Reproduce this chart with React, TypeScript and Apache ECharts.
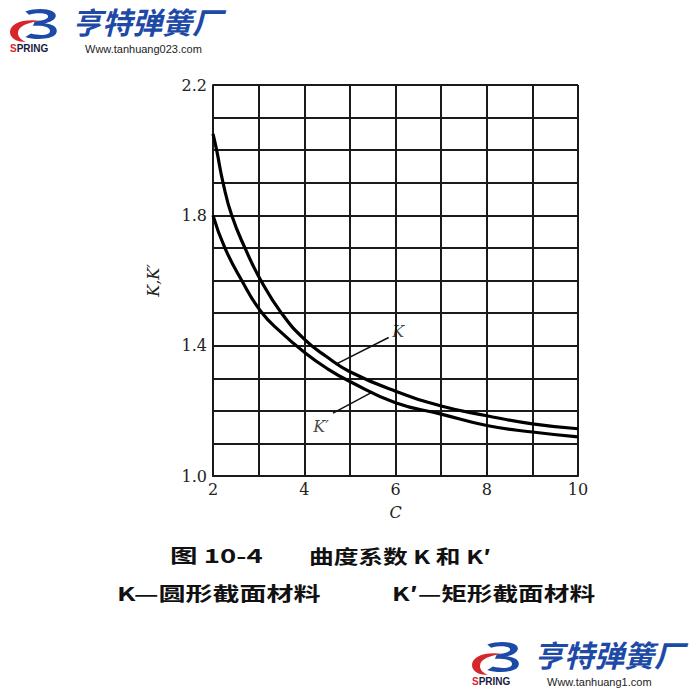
import React, { useEffect, useRef } from "react";
import * as echarts from "echarts";

// ---- data ----
const K_C = [2, 2.08, 2.22, 2.41, 2.7, 3.05, 3.5, 4, 4.5, 5, 6, 7, 8, 9, 10];
const K_VALUES = [2.05, 2.0, 1.9, 1.8, 1.7, 1.6, 1.5, 1.42, 1.365, 1.32, 1.26, 1.215, 1.185, 1.16, 1.145];
const KP_C = [2, 2.26, 2.63, 3.05, 3.5, 4, 4.5, 5, 6, 7, 8, 9, 10];
const KP_VALUES = [1.8, 1.7, 1.6, 1.505, 1.44, 1.38, 1.33, 1.29, 1.225, 1.19, 1.155, 1.135, 1.12];
const X_LABELS = [2, 4, 6, 8, 10];
const Y_LABELS = ["1.0", "1.4", "1.8", "2.2"];
const K_LEADER = [[4.72, 1.345], [5.85, 1.425]];
const KP_LEADER = [[5.5, 1.258], [4.63, 1.193]];
const K_LABEL_POS = [6.06, 1.445];
const KP_LABEL_POS = [4.37, 1.153];

const TITLE_1A = "图 10-4";
const TITLE_1B = "曲度系数 K 和 K′";
const TITLE_2A = "K—圆形截面材料";
const TITLE_2B = "K′—矩形截面材料";

const BLUE_PATH =
  "M14 4 C30 -2 48 2 46 10 C45 14 40 17 34 18 C44 19 50 24 46 31 C42 37 24 38 14 34 L20 30 C30 33 40 32 40 27 C40 22 32 20 22 21 L24 16 C32 15 38 13 38 10 C38 6 28 5 18 8 Z";
const RED_PATH =
  "M0 20 C0 11 14 6 32 9 C18 10 8 14 8 21 C8 25 11 28 16 30 C6 30 0 26 0 20 Z";

echarts.graphic.registerShape("logoBlue", echarts.graphic.extendPath(BLUE_PATH, {}));
echarts.graphic.registerShape("logoRed", echarts.graphic.extendPath(RED_PATH, {}));

const serif = "DejaVu Serif, Liberation Serif, serif";
const cjk = "Noto Sans CJK SC, sans-serif";

function logo(x: number, y: number, url: string) {
  return {
    type: "group",
    x,
    y,
    children: [
      { type: "logoRed", x: 0, y: 4, scaleX: 1, scaleY: 1, style: { fill: "#d7262b" } },
      { type: "logoBlue", x: 2, y: 0, scaleX: 0.95, scaleY: 0.85, style: { fill: "#1d4aa7" } },
      {
        type: "text",
        x: 0,
        y: 35,
        style: {
          text: "{r|S}{b|PRING}",
          rich: {
            r: { fill: "#d7262b", fontSize: 10, fontWeight: "bold", fontFamily: "Liberation Sans, sans-serif" },
            b: { fill: "#1a1a40", fontSize: 10, fontWeight: "bold", fontFamily: "Liberation Sans, sans-serif" },
          },
        },
      },
      {
        type: "text",
        x: 62,
        y: -2,
        style: {
          text: "亨特弹簧厂",
          fill: "#1d4aa7",
          font: "italic bold 30px Noto Sans CJK SC, sans-serif",
        },
      },
      {
        type: "text",
        x: 75,
        y: 35,
        style: {
          text: url,
          fill: "#222",
          font: "11px Liberation Sans, Arial, sans-serif",
        },
      },
    ],
  };
}

function title(x: number, y: number, text: string, sx: number) {
  return {
    type: "text",
    x,
    y,
    scaleX: sx,
    scaleY: 1,
    style: { text, font: `bold 19px ${cjk}`, fill: "#111", verticalAlign: "middle" },
  };
}

export default function App() {
  const ref = useRef<HTMLDivElement>(null);
  useEffect(() => {
    if (!ref.current) return;
    const chart = echarts.init(ref.current, undefined, { renderer: "svg" });
    const gridLine = { color: "#1a1a1a", width: 2 };
    chart.setOption({
      animation: false,
      backgroundColor: "#ffffff",
      grid: { left: 213, top: 85, right: 122, bottom: 224 },
      xAxis: {
        type: "value",
        min: 2,
        max: 10,
        interval: 1,
        name: "C",
        nameLocation: "middle",
        nameGap: 28,
        nameTextStyle: { fontFamily: serif, fontStyle: "italic", fontSize: 16, color: "#222" },
        axisLine: { show: true, lineStyle: gridLine },
        axisTick: { show: false },
        splitLine: { show: true, lineStyle: gridLine },
        axisLabel: {
          color: "#222",
          fontFamily: serif,
          fontSize: 16,
          margin: 5,
          formatter: (v: number) => (X_LABELS.some((l) => Math.abs(l - v) < 1e-6) ? String(Math.round(v)) : ""),
        },
      },
      yAxis: {
        type: "value",
        min: 1.0,
        max: 2.2,
        interval: 0.1,
        name: "K,K′",
        nameLocation: "middle",
        nameGap: 52,
        nameTextStyle: { fontFamily: serif, fontStyle: "italic", fontSize: 16, color: "#222" },
        axisLine: { show: true, lineStyle: gridLine },
        axisTick: { show: false },
        splitLine: { show: true, lineStyle: gridLine },
        axisLabel: {
          color: "#222",
          fontFamily: serif,
          fontSize: 16,
          margin: 6,
          formatter: (v: number) => {
            const s = v.toFixed(1);
            return Y_LABELS.includes(s) ? s : "";
          },
        },
      },
      series: [
        {
          name: "K",
          type: "line",
          smooth: 0.5,
          showSymbol: false,
          lineStyle: { color: "#000", width: 3.2 },
          data: K_C.map((c, i) => [c, K_VALUES[i]]),
          z: 5,
        },
        {
          name: "K′",
          type: "line",
          smooth: 0.5,
          showSymbol: false,
          lineStyle: { color: "#000", width: 3.2 },
          data: KP_C.map((c, i) => [c, KP_VALUES[i]]),
          z: 5,
        },
        {
          type: "line",
          showSymbol: false,
          lineStyle: { color: "#111", width: 1.5 },
          data: K_LEADER,
          z: 4,
        },
        {
          type: "line",
          showSymbol: false,
          lineStyle: { color: "#111", width: 1.5 },
          data: KP_LEADER,
          z: 4,
        },
        {
          type: "scatter",
          symbolSize: 0,
          data: [K_LABEL_POS],
          label: {
            show: true,
            position: "inside",
            formatter: "K",
            fontFamily: serif,
            fontStyle: "italic",
            fontSize: 16,
            color: "#111",
          },
          z: 6,
        },
        {
          type: "scatter",
          symbolSize: 0,
          data: [KP_LABEL_POS],
          label: {
            show: true,
            position: "inside",
            formatter: "K′",
            fontFamily: serif,
            fontStyle: "italic",
            fontSize: 16,
            color: "#111",
          },
          z: 6,
        },
      ],
      graphic: [
        logo(10, 8, "Www.tanhuang023.com"),
        logo(472, 641, "Www.tanhuang1.com"),
        title(170, 555, TITLE_1A, 1.45),
        title(309, 555, TITLE_1B, 1.3),
        title(117, 593, TITLE_2A, 1.42),
        title(392, 593, TITLE_2B, 1.35),
      ],
    });
    return () => chart.dispose();
  }, []);
  return (
    <div
      ref={ref}
      style={{ position: "fixed", left: 0, top: 0, width: 700, height: 700, background: "#fff" }}
    />
  );
}
